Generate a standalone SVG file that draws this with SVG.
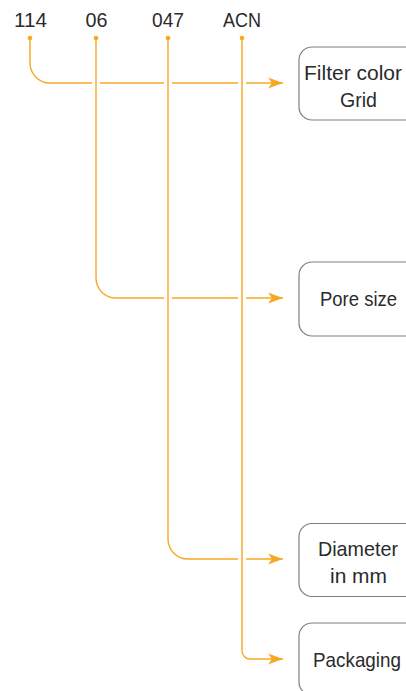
<svg xmlns="http://www.w3.org/2000/svg" width="406" height="691" viewBox="0 0 406 691">
<style>
.t{font-family:"Liberation Sans",Arial,sans-serif;font-size:21px;fill:#2b2b2b;}
.c{fill:none;stroke:#F7A823;stroke-width:1.4;}
.d{fill:#F7A823;}
.b{fill:#ffffff;stroke:#7f7f7f;stroke-width:1.2;}
</style>
<defs>
<marker id="ah" markerUnits="userSpaceOnUse" markerWidth="16" markerHeight="12" refX="15" refY="6" orient="auto">
<path d="M0,0.5 L15,6 L0,11.5 L4,6 Z" fill="#F7A823"/>
</marker>
</defs>
<g id="codes">
<text class="t" x="30.5" y="27" text-anchor="middle" textLength="33" lengthAdjust="spacingAndGlyphs">114</text>
<text class="t" x="96.5" y="27" text-anchor="middle" textLength="22" lengthAdjust="spacingAndGlyphs">06</text>
<text class="t" x="168" y="27" text-anchor="middle" textLength="32" lengthAdjust="spacingAndGlyphs">047</text>
<text class="t" x="242" y="27" text-anchor="middle" textLength="38" lengthAdjust="spacingAndGlyphs">ACN</text>
</g>
<g id="connectors">
<path class="c" d="M30,38 V63 A20,20 0 0 0 50,83 H92 M100,83 H164 M172,83 H238"/>
<path class="c" d="M246,83 H283" marker-end="url(#ah)"/>
<path class="c" d="M96,38 V278 A20,20 0 0 0 116,298 H164 M172,298 H238"/>
<path class="c" d="M246,298 H283" marker-end="url(#ah)"/>
<path class="c" d="M168,38 V539 A20,20 0 0 0 188,559 H238"/>
<path class="c" d="M246,559 H283" marker-end="url(#ah)"/>
<path class="c" d="M242,38 V651 A8,8 0 0 0 250,659 H283" marker-end="url(#ah)"/>
<circle class="d" cx="30" cy="38" r="2.3"/>
<circle class="d" cx="96" cy="38" r="2.3"/>
<circle class="d" cx="168" cy="38" r="2.3"/>
<circle class="d" cx="242" cy="38" r="2.3"/>
</g>
<g id="filter-color">
<rect class="b" x="299" y="47" width="122" height="73" rx="13"/>
<text class="t" x="353" y="80" text-anchor="middle" textLength="98" lengthAdjust="spacingAndGlyphs">Filter color</text>
<text class="t" x="358.5" y="107" text-anchor="middle" textLength="37" lengthAdjust="spacingAndGlyphs">Grid</text>
</g>
<g id="pore-size">
<rect class="b" x="299" y="262" width="122" height="74" rx="13"/>
<text class="t" x="358.5" y="306" text-anchor="middle" textLength="77" lengthAdjust="spacingAndGlyphs">Pore size</text>
</g>
<g id="diameter">
<rect class="b" x="299" y="523.5" width="122" height="73" rx="13"/>
<text class="t" x="358" y="555.5" text-anchor="middle" textLength="80" lengthAdjust="spacingAndGlyphs">Diameter</text>
<text class="t" x="358.5" y="582.5" text-anchor="middle" textLength="57" lengthAdjust="spacingAndGlyphs">in mm</text>
</g>
<g id="packaging">
<rect class="b" x="299" y="623" width="122" height="72" rx="13"/>
<text class="t" x="357" y="667" text-anchor="middle" textLength="88" lengthAdjust="spacingAndGlyphs">Packaging</text>
</g>
</svg>
